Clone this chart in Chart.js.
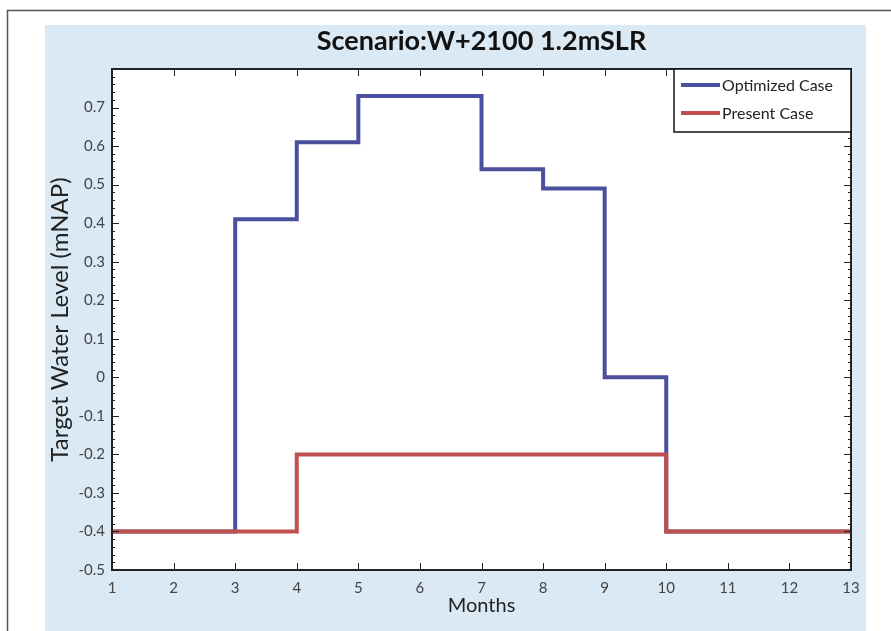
<!DOCTYPE html>
<html>
<head>
<meta charset="utf-8">
<script src="https://cdn.jsdelivr.net/npm/chart.js@4.4.1/dist/chart.umd.min.js"></script>
<style>
  body { margin: 0; background: #fff; }
  #wrap { width: 891px; height: 631px; }
</style>
</head>
<body>
<div id="wrap"><canvas id="lineChart" width="891" height="631"></canvas></div>
<script>
// months along x axis, value holds from a month to the next one (stairs)
let months = [1, 2, 3, 4, 5, 6, 7, 8, 9, 10, 11, 12, 13]
let optimizedCase = [-0.4, -0.4, 0.41, 0.61, 0.73, 0.73, 0.54, 0.49, 0.0, -0.4, -0.4, -0.4, -0.4]
let presentCase = [-0.4, -0.4, -0.4, -0.2, -0.2, -0.2, -0.2, -0.2, -0.2, -0.4, -0.4, -0.4, -0.4]
let yTicks = [-0.5, -0.4, -0.3, -0.2, -0.1, 0, 0.1, 0.2, 0.3, 0.4, 0.5, 0.6, 0.7]
let seriesNames = ["Optimized Case", "Present Case"]

const BLUE = "#4a4f9e"
const RED = "#c0504d"
const FONT = "Lato, 'Open Sans', sans-serif"

// background, frame and plot box
const backdrop = {
    id: "backdrop",
    beforeDraw(chart) {
        const ctx = chart.ctx
        const a = chart.chartArea
        ctx.save()
        ctx.fillStyle = "#fff"
        ctx.fillRect(0, 0, chart.width, chart.height)
        ctx.fillStyle = "#dbe9f4"
        ctx.fillRect(45, 25, 821, 606)
        ctx.strokeStyle = "#555"
        ctx.lineWidth = 1.5
        ctx.beginPath()
        ctx.moveTo(7.5, 631)
        ctx.lineTo(7.5, 10.5)
        ctx.lineTo(891, 10.5)
        ctx.stroke()
        ctx.fillStyle = "#fff"
        ctx.fillRect(a.left, a.top, a.right - a.left, a.bottom - a.top)
        ctx.restore()
    }
}

// inward ticks on all four sides, box and legend
const axesBox = {
    id: "axesBox",
    afterDraw(chart) {
        const ctx = chart.ctx
        const a = chart.chartArea
        const xs = chart.scales.x
        const ys = chart.scales.y
        ctx.save()
        ctx.strokeStyle = "#222"
        ctx.lineWidth = 1
        ctx.beginPath()
        months.forEach(m => {
            const px = Math.round(xs.getPixelForValue(m)) + 0.5
            ctx.moveTo(px, a.bottom); ctx.lineTo(px, a.bottom - 7)
            ctx.moveTo(px, a.top); ctx.lineTo(px, a.top + 7)
        })
        yTicks.concat([0.8]).forEach(v => {
            const py = Math.round(ys.getPixelForValue(v)) + 0.5
            ctx.moveTo(a.left, py); ctx.lineTo(a.left + 7, py)
            ctx.moveTo(a.right, py); ctx.lineTo(a.right - 7, py)
        })
        for (let k = 0; k < 65; k++) {
            const v = -0.5 + k * 0.02
            const py = Math.round(ys.getPixelForValue(v)) + 0.5
            ctx.moveTo(a.left, py); ctx.lineTo(a.left + 3, py)
            ctx.moveTo(a.right, py); ctx.lineTo(a.right - 3, py)
        }
        ctx.stroke()
        ctx.lineWidth = 2
        ctx.strokeRect(a.left, a.top, a.right - a.left, a.bottom - a.top)

        // legend box
        const lx = 674, ly = a.top, lw = a.right - 674, lh = 63
        ctx.fillStyle = "#fff"
        ctx.fillRect(lx, ly, lw, lh)
        ctx.lineWidth = 1.5
        ctx.strokeStyle = "#111"
        ctx.strokeRect(lx, ly, lw, lh)
        const colors = [BLUE, RED]
        ctx.font = "16px " + FONT
        ctx.textBaseline = "middle"
        seriesNames.forEach((name, i) => {
            const yy = ly + 16 + i * 28
            ctx.strokeStyle = colors[i]
            ctx.lineWidth = 4
            ctx.beginPath()
            ctx.moveTo(681, yy); ctx.lineTo(720, yy)
            ctx.stroke()
            ctx.fillStyle = "#222"
            ctx.fillText(name, 722, yy + 1)
        })
        ctx.restore()
    }
}

let CHART = document.getElementById("lineChart")
let lineChart = new Chart(CHART, {
    type: "line",
    data: {
        labels: months,
        datasets: [
            {
                label: seriesNames[0],
                data: months.map((m, i) => ({ x: m, y: optimizedCase[i] })),
                stepped: true,
                fill: false,
                borderColor: BLUE,
                borderWidth: 4,
                borderJoinStyle: "miter",
                borderCapStyle: "butt",
                pointRadius: 0,
                order: 1
            },
            {
                label: seriesNames[1],
                data: months.map((m, i) => ({ x: m, y: presentCase[i] })),
                stepped: true,
                fill: false,
                borderColor: RED,
                borderWidth: 4,
                borderJoinStyle: "miter",
                borderCapStyle: "butt",
                pointRadius: 0,
                order: 0
            }
        ]
    },
    options: {
        responsive: false,
        animation: false,
        layout: { padding: { left: 46, right: 40, top: 25, bottom: 0 } },
        plugins: {
            legend: { display: false },
            tooltip: { enabled: false },
            title: {
                display: true,
                text: "Scenario:W+2100 1.2mSLR",
                fullSize: false,
                color: "#111",
                font: { family: FONT, size: 27, weight: "bold", lineHeight: 1.2 },
                padding: { top: 0, bottom: 11.6 }
            }
        },
        scales: {
            x: {
                type: "linear",
                min: 1,
                max: 13,
                afterFit: s => { s.height = 61 },
                afterBuildTicks: s => { s.ticks = months.map(v => ({ value: v })) },
                grid: { drawOnChartArea: false, drawTicks: false },
                border: { display: false },
                ticks: { color: "#444", padding: 9, font: { family: FONT, size: 15 }, maxRotation: 0 },
                title: { display: true, text: "Months", color: "#222", font: { family: FONT, size: 20 }, padding: { top: 0, bottom: 13 } }
            },
            y: {
                min: -0.5,
                max: 0.8,
                afterFit: s => { s.width = 66 },
                afterBuildTicks: s => { s.ticks = yTicks.map(v => ({ value: v })) },
                grid: { drawOnChartArea: false, drawTicks: false },
                border: { display: false },
                ticks: {
                    color: "#444",
                    padding: 7,
                    font: { family: FONT, size: 15 },
                    callback: v => String(Math.round(v * 10) / 10)
                },
                title: { display: true, text: "Target Water Level (mNAP)", color: "#222", font: { family: FONT, size: 24 }, padding: { top: 0, bottom: 0 } }
            }
        }
    },
    plugins: [backdrop, axesBox]
})
</script>
</body>
</html>
